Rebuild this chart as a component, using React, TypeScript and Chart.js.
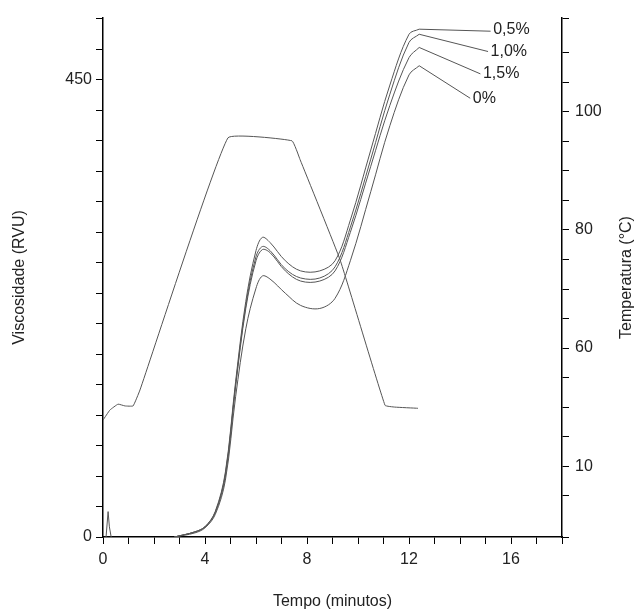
import React, { useEffect, useRef } from "react";
import { Chart, registerables } from "chart.js";
Chart.register(...registerables);

const tempTime = [0, 0.27, 0.59, 0.86, 1.18, 1.45, 4.9, 7.41, 7.73, 9.3, 11.06, 11.45, 12.35];
const tempValues = [47.8, 49.5, 50.5, 50.2, 50.2, 52.9, 95.6, 95.1, 91.9, 74.9, 50.3, 50, 49.8];

const viscTime = [2.8, 3.6, 4.0, 4.4, 4.8, 5.2, 5.6, 6.0, 6.25, 6.55, 7.15, 7.75, 8.5, 9.1, 9.7, 10.5, 11.25, 12.0, 12.4];
const visc05 = [0, 5, 10, 25, 64, 153, 232, 282, 295, 290, 272, 262, 262, 272, 312, 381, 445, 495, 500];
const visc10 = [0, 5, 10, 24, 62, 150, 228, 276, 286, 282, 264, 255, 255, 266, 305, 372, 436, 487, 495];
const visc15 = [0, 5, 10, 24, 60, 148, 225, 272, 283, 280, 262, 252, 252, 262, 300, 365, 425, 472, 482];
const visc0 = [0, 4, 9, 22, 56, 138, 205, 245, 257, 254, 240, 228, 225, 235, 272, 340, 405, 455, 464];

const spikeTime = [0.12, 0.2, 0.25, 0.32];
const spikeValues = [0, 25, 10, 0];

const seriesLabels = ["0,5%", "1,0%", "1,5%", "0%"];
const leaderStart = [[12.4, 500], [12.4, 495], [12.4, 482], [12.4, 464]];
const leaderEnd = [[15.2, 498], [15.1, 478], [14.8, 456], [14.4, 432]];
const labelPos = [[15.3, 500], [15.2, 478], [14.9, 456], [14.5, 432]];

const xTicks = [0, 4, 8, 12, 16];
const yTicks = [0, 450];
const tempTickLabels: Record<number, string> = { 40: "10", 60: "60", 80: "80", 100: "100" };
const rightTitle = "Temperatura (°C)";

const FONT = "'Liberation Sans', Arial, sans-serif";
const LINE = "#555";

export default function App() {
  const ref = useRef<HTMLCanvasElement>(null);
  useEffect(() => {
    const pts = (xs: number[], ys: number[]) => xs.map((x, i) => ({ x, y: ys[i] }));
    const base = { borderColor: LINE, borderWidth: 1, pointRadius: 0, tension: 0.35, fill: false };
    const leaders = leaderStart.map((s, i) => ({
      ...base, tension: 0, yAxisID: "y",
      data: [{ x: s[0], y: s[1] }, { x: leaderEnd[i][0], y: leaderEnd[i][1] }],
    }));
    const labelPlugin = {
      id: "labels",
      afterDatasetsDraw(chart: any) {
        const { ctx, scales, chartArea } = chart;
        ctx.save();
        ctx.font = `16px ${FONT}`;
        ctx.fillStyle = "#222";
        ctx.textBaseline = "middle";
        ctx.textAlign = "left";
        seriesLabels.forEach((t, i) => {
          ctx.fillText(t, scales.x.getPixelForValue(labelPos[i][0]), scales.y.getPixelForValue(labelPos[i][1]));
        });
        ctx.translate(chart.width - 11, (chartArea.top + chartArea.bottom) / 2);
        ctx.rotate(-Math.PI / 2);
        ctx.textAlign = "center";
        ctx.fillText(rightTitle, 0, 0);
        ctx.restore();
      },
    };
    const chart = new Chart(ref.current!, {
      type: "line",
      data: {
        datasets: [
          { ...base, tension: 0.1, yAxisID: "y1", data: pts(tempTime, tempValues) },
          { ...base, yAxisID: "y", data: pts(viscTime, visc05) },
          { ...base, yAxisID: "y", data: pts(viscTime, visc10) },
          { ...base, yAxisID: "y", data: pts(viscTime, visc15) },
          { ...base, yAxisID: "y", data: pts(viscTime, visc0) },
          { ...base, tension: 0, yAxisID: "y", data: pts(spikeTime, spikeValues) },
          ...leaders,
        ] as any,
      },
      plugins: [labelPlugin],
      options: {
        animation: false,
        responsive: false,
        layout: { padding: { top: 18, bottom: 0 } },
        plugins: { legend: { display: false }, tooltip: { enabled: false } },
        scales: {
          x: {
            type: "linear", min: 0, max: 18,
            border: { color: "#000", width: 1.5 },
            grid: { drawOnChartArea: false, tickLength: 7, color: "#000" },
            ticks: {
              stepSize: 1, color: "#222", font: { size: 16, family: FONT }, padding: 6,
              callback: (v: any) => (xTicks.includes(v) ? String(v) : ""),
            },
            title: { display: true, text: "Tempo (minutos)", color: "#222", font: { size: 16, family: FONT }, padding: { top: 12 } },
            afterFit: (s: any) => { s.height = 78; },
          },
          y: {
            type: "linear", position: "left", min: 0, max: 511,
            border: { color: "#000", width: 1.5 },
            grid: { drawOnChartArea: false, tickLength: 7, color: "#000" },
            ticks: {
              stepSize: 30, color: "#222", font: { size: 16, family: FONT }, padding: 4,
              callback: (v: any) => (yTicks.includes(v) ? String(v) : ""),
            },
            title: { display: true, text: "Viscosidade (RVU)", color: "#222", font: { size: 16, family: FONT }, padding: { top: 10 } },
            afterFit: (s: any) => { s.width = 103; },
          },
          y1: {
            type: "linear", position: "right", min: 28, max: 115.9,
            border: { color: "#000", width: 1.5 },
            grid: { drawOnChartArea: false, tickLength: 7, color: "#000" },
            ticks: {
              stepSize: 5, color: "#222", font: { size: 16, family: FONT }, padding: 6,
              callback: (v: any) => tempTickLabels[v] ?? "",
            },
            afterFit: (s: any) => { s.width = 76; },
          },
        },
      } as any,
    });
    return () => chart.destroy();
  }, []);
  return (
    <div style={{ position: "fixed", left: 0, top: 0, width: 638, height: 615, background: "#fff" }}>
      <canvas ref={ref} width={638} height={615} />
    </div>
  );
}
